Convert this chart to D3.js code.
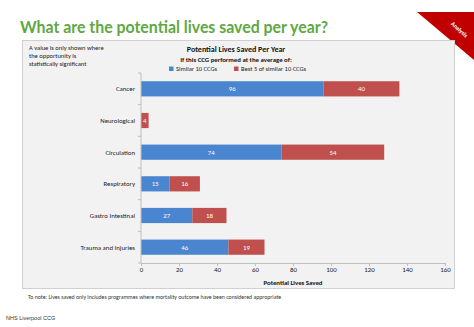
<!DOCTYPE html>
<html>
<head>
<meta charset="utf-8">
<script src="https://cdn.jsdelivr.net/npm/d3@7"></script>
<style>
  body { margin: 0; background: #fff; }
  svg { display: block; font-family: Calibri, Carlito, "Liberation Sans", Arial, sans-serif; }
</style>
</head>
<body>
<svg id="chart" width="474" height="327"></svg>
<script>
const categories = ['Cancer', 'Neurological', 'Circulation', 'Respiratory', 'Gastro Intestinal', 'Trauma and Injuries'];
const similar10 = [96, 0, 74, 15, 27, 46];
const best5 = [40, 4, 54, 16, 18, 19];
const seriesNames = ['Similar 10 CCGs', 'Best 5 of similar 10 CCGs'];
const xTicks = [0, 20, 40, 60, 80, 100, 120, 140, 160];

const colors = ['#4a86d0', '#c0504d'];
const svg = d3.select('#chart');

// title
svg.append('text')
  .attr('x', 20).attr('y', 33)
  .attr('textLength', 308).attr('lengthAdjust', 'spacingAndGlyphs')
  .style('font-family', 'Lato, "Open Sans", sans-serif')
  .style('font-size', '17px').style('font-weight', 700)
  .style('fill', '#5fa843')
  .text('What are the potential lives saved per year?');

// corner ribbon
svg.append('path')
  .attr('d', 'M417,12 L474,12 L474,60 Z')
  .style('fill', '#c00000');
svg.append('text')
  .attr('transform', 'translate(458,31) rotate(42)')
  .attr('text-anchor', 'middle')
  .style('font-size', '6px').style('font-weight', 700)
  .style('fill', '#fff')
  .text('Analysis');

// panel
svg.append('rect')
  .attr('x', 22.5).attr('y', 40.5).attr('width', 432).attr('height', 248)
  .style('fill', '#f2f2f2').style('stroke', '#d0d0d0');

const note = ['A value is only shown where', 'the opportunity is', 'statistically significant'];
svg.append('g').selectAll('text').data(note).join('text')
  .attr('x', 29).attr('y', (d, i) => 50 + i * 7.8)
  .style('font-size', '6.5px').style('fill', '#222')
  .text(d => d);

svg.append('text')
  .attr('x', 236).attr('y', 52).attr('text-anchor', 'middle')
  .style('font-size', '8px').style('font-weight', 700).style('fill', '#111')
  .text('Potential Lives Saved Per Year');
svg.append('text')
  .attr('x', 236).attr('y', 61.5).attr('text-anchor', 'middle')
  .style('font-size', '6.8px').style('font-weight', 700).style('fill', '#111')
  .text('If this CCG performed at the average of:');

// legend
const legendX = [169, 234];
const lg = svg.append('g').selectAll('g').data(seriesNames).join('g')
  .attr('transform', (d, i) => `translate(${legendX[i]},69)`);
lg.append('rect').attr('x', 0).attr('y', -2.5).attr('width', 4.5).attr('height', 4.5)
  .style('fill', (d, i) => colors[i]);
lg.append('text').attr('x', 7).attr('y', 2.2)
  .style('font-size', '6.5px').style('fill', '#222')
  .text(d => d);

// scales
const x = d3.scaleLinear().domain([0, 160]).range([141, 445]);
const y = d3.scaleBand().domain(categories).range([73, 263]).paddingInner(0.52).paddingOuter(0.26);

const stacked = categories.map((c, i) => [
  { cat: c, x0: 0, x1: similar10[i], v: similar10[i], s: 0 },
  { cat: c, x0: similar10[i], x1: similar10[i] + best5[i], v: best5[i], s: 1 },
]).flat().filter(d => d.v > 0);

svg.append('g').selectAll('rect').data(stacked).join('rect')
  .attr('x', d => x(d.x0)).attr('width', d => x(d.x1) - x(d.x0))
  .attr('y', d => y(d.cat)).attr('height', y.bandwidth())
  .style('fill', d => colors[d.s]);

svg.append('g').selectAll('text').data(stacked).join('text')
  .attr('x', d => (x(d.x0) + x(d.x1)) / 2)
  .attr('y', d => y(d.cat) + y.bandwidth() / 2 + 2.4)
  .attr('text-anchor', 'middle')
  .style('font-size', '6.8px').style('fill', '#fff')
  .text(d => d.v);

// x axis
const xAxis = svg.append('g').attr('transform', 'translate(0,263)')
  .call(d3.axisBottom(x).tickValues(xTicks).tickSize(3).tickSizeOuter(0));
xAxis.select('.domain').style('stroke', '#bfbfbf');
xAxis.selectAll('line').style('stroke', '#bfbfbf');
xAxis.selectAll('text').style('font-size', '6.8px').style('fill', '#222')
  .style('font-family', 'Calibri, Carlito, "Liberation Sans", Arial, sans-serif')
  .attr('dy', '0.5em');

svg.append('text')
  .attr('x', 293).attr('y', 285).attr('text-anchor', 'middle')
  .style('font-size', '6.8px').style('font-weight', 700).style('fill', '#111')
  .text('Potential Lives Saved');

// y axis: line with boundary ticks
const yAxis = svg.append('g').attr('transform', 'translate(141,0)');
yAxis.append('line').attr('x1', 0).attr('x2', 0).attr('y1', 73).attr('y2', 263)
  .style('stroke', '#bfbfbf');
const step = 190 / categories.length;
yAxis.selectAll('.bt').data(d3.range(categories.length + 1)).join('line')
  .attr('x1', -3).attr('x2', 0)
  .attr('y1', i => 73 + i * step).attr('y2', i => 73 + i * step)
  .style('stroke', '#bfbfbf');
yAxis.selectAll('text').data(categories).join('text')
  .attr('x', -6).attr('y', d => y(d) + y.bandwidth() / 2 + 2.4)
  .attr('text-anchor', 'end')
  .style('font-size', '6.8px').style('fill', '#222')
  .text(d => d);

svg.append('text')
  .attr('x', 28).attr('y', 299)
  .style('font-size', '5.8px').style('fill', '#333')
  .text('To note: Lives saved only includes programmes where mortality outcome have been considered appropriate');

svg.append('text')
  .attr('x', 6).attr('y', 320)
  .style('font-family', '"Liberation Sans", Arial, sans-serif')
  .style('font-size', '5.5px').style('fill', '#333')
  .text('NHS Liverpool CCG');
</script>
</body>
</html>
